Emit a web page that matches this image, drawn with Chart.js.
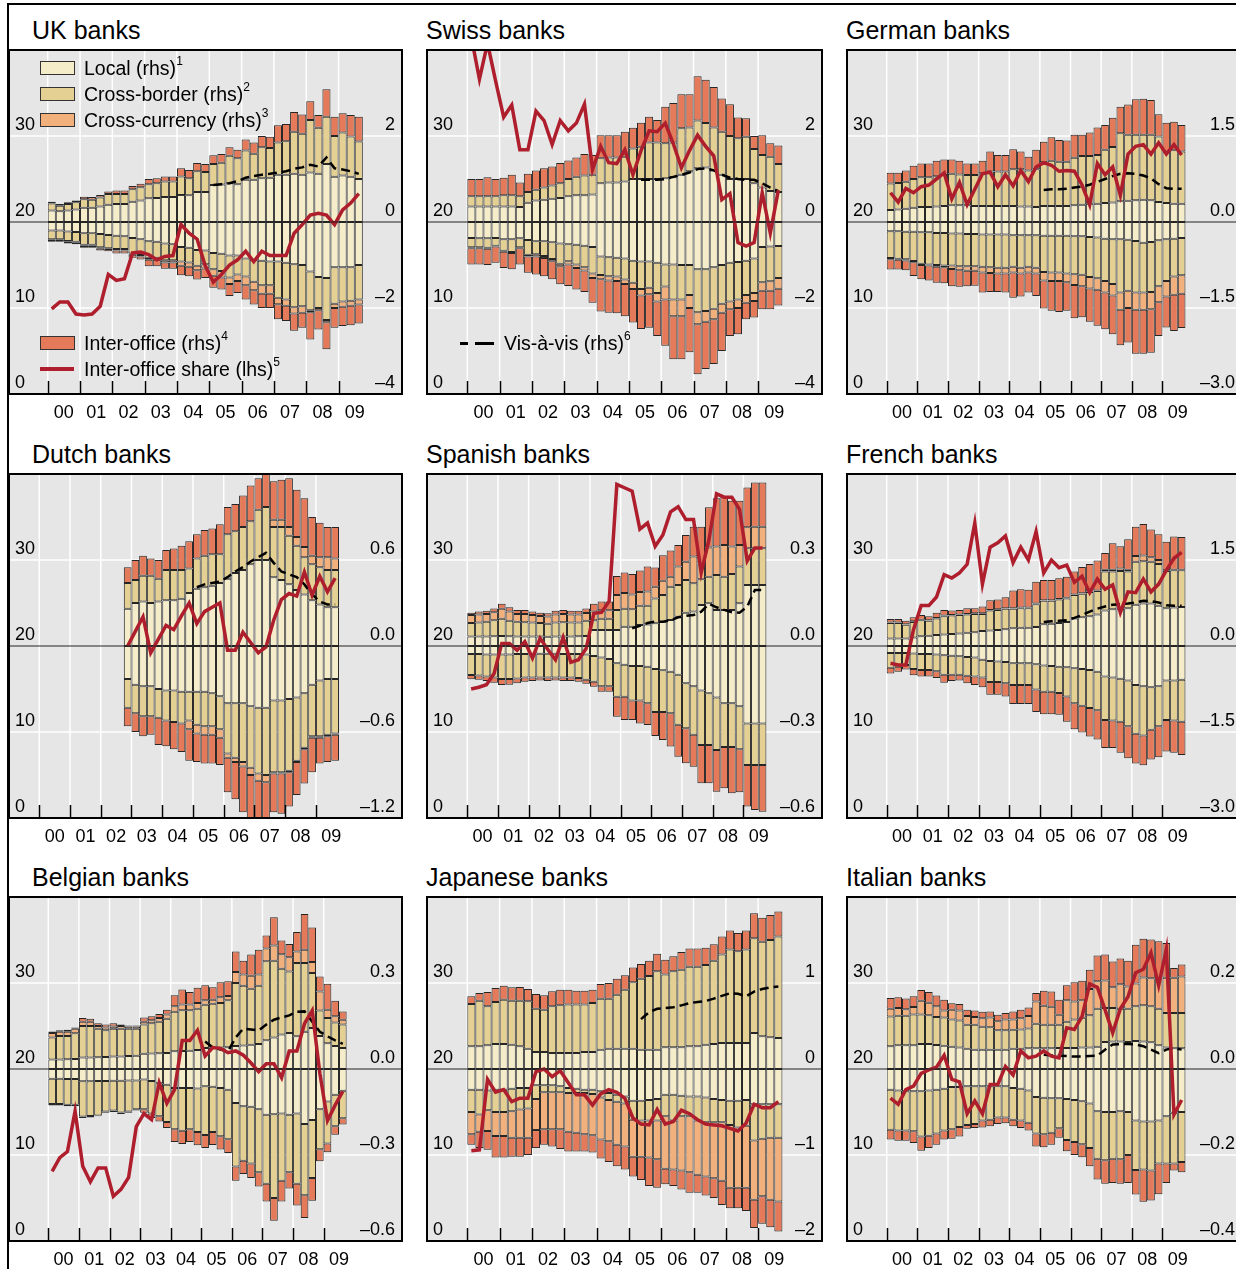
<!DOCTYPE html>
<html>
<head>
<meta charset="utf-8">
<title>Banks' funding positions</title>
<script src="https://cdn.jsdelivr.net/npm/chart.js@4.4.1/dist/chart.umd.min.js"></script>
<style>
    body { margin: 0; width: 1236px; height: 1269px; overflow: hidden; position: relative; background: #fff;
           font-family: "Liberation Sans", Arial, Helvetica, sans-serif; color: #000; }
    canvas { position: absolute; }
    .title { position: absolute; font-size: 25px; line-height: 25px; white-space: nowrap; }
    .lg { position: absolute; font-size: 19.5px; line-height: 19px; white-space: nowrap; }
    .lg sup { font-size: 12px; line-height: 0; vertical-align: 0; position: relative; top: -10px; }
    .sw { position: absolute; width: 35px; height: 14px; box-sizing: border-box; border: 1px solid #333; }
    .ln { position: absolute; }
    #frameTop { position: absolute; left: 7px; top: 3px; width: 1229px; height: 2px; background: #000; }
    #frameLeft { position: absolute; left: 7px; top: 3px; width: 2px; height: 1266px; background: #000; }
</style>
</head>
<body>
<div id="frameTop"></div>
<div id="frameLeft"></div>

<script>
// Quarter index: 0 = 2000 Q1. Bar values are the outer edge of each layer (rhs units),
// listed from the zero line outwards. Share is lhs (per cent).
const yearLabels = ['00', '01', '02', '03', '04', '05', '06', '07', '08', '09'];

// UK banks
const ukLocalUp = [0.27,0.25,0.27,0.29, 0.33,0.33,0.36,0.40, 0.42,0.42,0.47,0.50, 0.55,0.56,0.58,0.58, 0.63,0.62,0.70,0.70, 0.86,0.87,0.90,0.88, 0.98,0.98,1.02,1.03, 1.10,1.10,1.12,1.10, 1.15,1.12,1.35,1.05, 1.08,1.05,1.00];
const ukBorderUp = [0.43,0.38,0.42,0.46, 0.53,0.52,0.57,0.65, 0.65,0.65,0.76,0.81, 0.88,0.90,0.94,0.94, 1.06,1.02,1.18,1.16, 1.35,1.38,1.54,1.48, 1.66,1.59,1.74,1.72, 1.85,1.88,2.10,2.05, 2.37,2.19,2.45,2.00, 2.08,1.99,1.87];
const ukInterUp = [0.47,0.42,0.46,0.50, 0.59,0.58,0.63,0.71, 0.73,0.73,0.84,0.89, 1.00,1.02,1.06,1.06, 1.25,1.21,1.37,1.35, 1.55,1.58,1.74,1.68, 1.92,1.85,2.00,1.98, 2.25,2.28,2.56,2.50, 2.81,2.49,3.09,2.45, 2.53,2.49,2.45];
const ukLocalDown = [-0.2,-0.2,-0.22,-0.23, -0.26,-0.26,-0.28,-0.3, -0.32,-0.33,-0.37,-0.4, -0.45,-0.46,-0.5,-0.52, -0.58,-0.6,-0.65,-0.66, -0.72,-0.74,-0.78,-0.78, -0.85,-0.88,-0.9,-0.92, -0.92,-0.95,-0.98,-1.0, -1.15,-1.28,-1.3,-1.05, -1.05,-1.05,-1.0];
const ukBorderDown = [-0.4,-0.4,-0.44,-0.46, -0.53,-0.53,-0.59,-0.61, -0.63,-0.63,-0.73,-0.77, -0.83,-0.83,-0.89,-0.89, -0.92,-0.94,-1.02,-0.98, -1.1,-1.14,-1.29,-1.22, -1.27,-1.39,-1.47,-1.47, -1.76,-1.8,-1.98,-1.96, -2.05,-2.0,-2.28,-1.9, -1.85,-1.83,-1.8];
const ukCcyDown = [-0.42,-0.42,-0.46,-0.48, -0.55,-0.55,-0.61,-0.63, -0.66,-0.66,-0.76,-0.8, -0.88,-0.88,-0.94,-0.94, -1.02,-1.04,-1.12,-1.08, -1.25,-1.29,-1.44,-1.37, -1.47,-1.59,-1.67,-1.67, -1.91,-1.95,-2.13,-2.11, -2.1,-2.05,-2.33,-2.0, -1.97,-1.95,-1.92];
const ukInterDown = [-0.46,-0.46,-0.5,-0.52, -0.6,-0.6,-0.66,-0.68, -0.73,-0.73,-0.83,-0.87, -1.03,-1.03,-1.09,-1.09, -1.24,-1.26,-1.34,-1.3, -1.53,-1.57,-1.72,-1.65, -1.8,-1.92,-2.0,-2.0, -2.26,-2.3,-2.53,-2.46, -2.73,-2.5,-2.96,-2.46, -2.42,-2.4,-2.36];
const ukShare = [9.9,10.7,10.7,9.3, 9.2,9.3,10.2,13.9, 13.2,13.4,16.4,16.5, 16.2,15.6,16.0,16.1, 19.7,18.7,18.0,14.9, 13.0,13.9,15.0,15.6, 16.6,15.4,16.6,16.1, 16.1,16.1,18.7,19.7, 20.8,21.0,20.8,19.7, 21.4,22.2,23.3];
const ukVis = [0.86,0.88,0.90,0.95, 1.03,1.07,1.10,1.12, 1.15,1.18,1.24,1.27, 1.33,1.29,1.50,1.25, 1.22,1.18,1.12];

// Swiss banks
const chLocalUp = [0.36,0.36,0.36,0.36, 0.36,0.36,0.35,0.45, 0.5,0.52,0.54,0.56, 0.6,0.62,0.62,0.64, 0.9,0.92,0.92,0.94, 1.0,1.0,1.0,1.0, 1.02,1.04,1.1,1.18, 1.25,1.27,1.2,1.1, 1.0,1.0,1.0,0.9, 0.8,0.72,0.7];
const chBorderUp = [0.6,0.6,0.6,0.6, 0.62,0.62,0.6,0.7, 0.75,0.8,0.85,0.9, 1.0,1.05,1.08,1.1, 1.48,1.5,1.5,1.52, 1.71,1.75,1.85,1.85, 1.83,1.85,2.18,2.2, 2.36,2.3,2.2,2.1, 2.0,1.95,1.98,1.7, 1.56,1.52,1.35];
const chInterUp = [1.0,1.0,1.04,1.0, 1.03,1.1,0.92,1.12, 1.2,1.25,1.29,1.37, 1.43,1.5,1.58,1.56, 2.02,2.02,2.02,2.1, 2.19,2.31,2.45,2.37, 2.68,2.77,2.97,2.97, 3.39,3.31,3.14,2.87, 2.74,2.43,2.41,2.0, 2.02,1.83,1.78];
const chLocalDown = [-0.37,-0.38,-0.38,-0.37, -0.4,-0.4,-0.38,-0.42, -0.45,-0.45,-0.47,-0.5, -0.52,-0.53,-0.55,-0.58, -0.8,-0.82,-0.83,-0.85, -0.9,-0.92,-0.92,-0.95, -0.99,-0.99,-1.0,-1.0, -1.1,-1.1,-1.05,-1.0, -0.95,-0.93,-0.9,-0.85, -0.58,-0.57,-0.56];
const chBorderDown = [-0.59,-0.59,-0.6,-0.55, -0.67,-0.7,-0.59,-0.76, -0.75,-0.79,-0.86,-0.97, -0.91,-0.99,-1.05,-1.2, -1.23,-1.26,-1.27,-1.34, -1.41,-1.56,-1.53,-1.65, -1.5,-1.8,-1.8,-1.7, -2.1,-2.07,-2.02,-1.9, -1.85,-1.8,-1.7,-1.65, -1.4,-1.38,-1.3];
const chCcyDown = [-0.61,-0.61,-0.62,-0.57, -0.69,-0.72,-0.61,-0.8, -0.8,-0.84,-0.91,-1.03, -0.99,-1.07,-1.13,-1.3, -1.33,-1.36,-1.37,-1.44, -1.56,-1.71,-1.68,-1.85, -1.8,-2.19,-2.19,-2.0, -2.38,-2.32,-2.26,-2.11, -2.03,-2.0,-1.88,-1.84, -1.6,-1.6,-1.55];
const chInterDown = [-0.99,-0.99,-1.0,-0.95, -1.07,-1.1,-0.99,-1.18, -1.22,-1.26,-1.33,-1.45, -1.49,-1.57,-1.63,-1.88, -2.08,-2.11,-2.12,-2.19, -2.34,-2.49,-2.46,-2.65, -2.88,-3.19,-3.19,-3.03, -3.54,-3.42,-3.3,-3.0, -2.65,-2.61,-2.26,-2.22, -2.03,-2.03,-1.94];
const chShare = [41.5,36.6,40.8,36.4, 32.2,33.6,28.4,28.4, 32.9,31.8,29.0,31.8, 30.6,31.5,33.7,26.1, 28.8,26.9,26.8,28.4, 25.5,28.3,30.6,30.5, 31.5,29.1,26.3,28.3, 30.1,28.8,27.7,22.6, 23.3,17.6,17.2,17.6, 23.4,18.7,23.7];
const chVis = [0.98,0.98,0.98, 1.0,1.05,1.1,1.15, 1.23,1.25,1.2,1.1, 1.03,1.0,0.98,0.98, 0.9,0.8,0.72];

// German banks
const deLocalUp = [0.21,0.22,0.23,0.25, 0.26,0.26,0.27,0.28, 0.29,0.29,0.29,0.28, 0.28,0.28,0.28,0.28, 0.28,0.27,0.27,0.26, 0.28,0.28,0.28,0.28, 0.29,0.3,0.32,0.32, 0.33,0.34,0.36,0.37, 0.38,0.39,0.38,0.35, 0.33,0.32,0.32];
const deBorderUp = [0.67,0.68,0.7,0.75, 0.78,0.78,0.8,0.82, 0.84,0.83,0.82,0.82, 0.85,0.88,0.88,0.88, 0.92,0.92,0.9,0.92, 1.04,1.07,1.05,1.05, 1.12,1.15,1.15,1.17, 1.26,1.31,1.55,1.52, 1.52,1.52,1.52,1.49, 1.23,1.25,1.23];
const deInterUp = [0.86,0.86,0.9,0.98, 1.02,1.02,1.07,1.09, 1.09,1.07,1.02,1.02, 1.07,1.23,1.17,1.17, 1.27,1.23,1.14,1.26, 1.4,1.48,1.43,1.42, 1.52,1.52,1.56,1.65, 1.69,1.82,2.01,2.05, 2.14,2.15,2.13,1.88, 1.73,1.75,1.69];
const deLocalDown = [-0.16,-0.16,-0.17,-0.17, -0.18,-0.18,-0.19,-0.19, -0.2,-0.2,-0.21,-0.21, -0.22,-0.22,-0.22,-0.22, -0.23,-0.23,-0.23,-0.23, -0.24,-0.24,-0.24,-0.24, -0.25,-0.25,-0.26,-0.27, -0.29,-0.3,-0.3,-0.31, -0.33,-0.36,-0.35,-0.32, -0.3,-0.29,-0.28];
const deBorderDown = [-0.63,-0.64,-0.65,-0.68, -0.73,-0.74,-0.75,-0.76, -0.76,-0.77,-0.77,-0.77, -0.78,-0.79,-0.8,-0.8, -0.78,-0.8,-0.78,-0.8, -0.87,-0.88,-0.88,-0.9, -0.91,-0.92,-0.96,-0.98, -1.03,-1.08,-1.23,-1.2, -1.23,-1.23,-1.22,-1.12, -1.03,-0.95,-0.93];
const deCcyDown = [-0.65,-0.66,-0.67,-0.7, -0.75,-0.76,-0.78,-0.79, -0.82,-0.84,-0.85,-0.85, -0.88,-0.89,-0.9,-0.9, -0.88,-0.9,-0.88,-0.9, -1.02,-1.03,-1.03,-1.05, -1.1,-1.12,-1.16,-1.18, -1.23,-1.28,-1.53,-1.5, -1.53,-1.53,-1.52,-1.4, -1.3,-1.27,-1.25];
const deInterDown = [-0.83,-0.83,-0.84,-0.94, -1.0,-1.02,-1.06,-1.07, -1.12,-1.13,-1.12,-1.11, -1.23,-1.22,-1.22,-1.23, -1.32,-1.3,-1.23,-1.29, -1.51,-1.55,-1.57,-1.55, -1.68,-1.66,-1.74,-1.81, -1.87,-1.96,-2.15,-2.1, -2.3,-2.3,-2.28,-1.99, -1.84,-1.9,-1.85];
const deShare = [23.4,22.3,23.9,23.4, 24.1,24.3,25.0,25.7, 22.7,24.6,22.0,23.8, 25.6,25.8,24.1,25.5, 24.2,26.0,24.7,26.4, 26.9,26.6,25.9,26.0, 25.9,24.3,22.0,26.8, 25.5,26.4,23.1,27.9, 28.8,29.0,27.9,29.2, 27.9,29.0,27.8];
const deVis = [0.56,0.57,0.57,0.58, 0.6,0.62,0.65,0.7, 0.75,0.8,0.84,0.85, 0.84,0.81,0.76,0.66, 0.59,0.58,0.58];

// Dutch banks (from 2002 Q4)
const nlLocalUp = [0.26, 0.3,0.31,0.3,0.31, 0.32,0.32,0.33,0.37, 0.4,0.41,0.42,0.44, 0.47,0.51,0.53,0.57, 0.6,0.6,0.48,0.46, 0.43,0.39,0.36,0.32, 0.29,0.27,0.27];
const nlBorderUp = [0.44, 0.46,0.49,0.49,0.47, 0.53,0.53,0.53,0.54, 0.61,0.63,0.64,0.64, 0.78,0.8,0.83,0.87, 0.95,0.97,0.83,0.83, 0.77,0.7,0.62,0.57, 0.55,0.53,0.53];
const nlCcyUp = [0.44, 0.46,0.49,0.49,0.47, 0.53,0.53,0.53,0.54, 0.61,0.63,0.64,0.64, 0.78,0.8,0.83,0.87, 0.95,0.97,0.88,0.88, 0.83,0.76,0.69,0.63, 0.62,0.62,0.61];
const nlInterUp = [0.55, 0.6,0.63,0.61,0.6, 0.67,0.68,0.7,0.73, 0.78,0.81,0.82,0.85, 0.97,0.99,1.05,1.12, 1.17,1.22,1.15,1.16, 1.17,1.09,1.03,0.9, 0.86,0.83,0.83];
const nlLocalDown = [-0.23, -0.27,-0.28,-0.28,-0.3, -0.31,-0.31,-0.32,-0.32, -0.32,-0.32,-0.33,-0.35, -0.4,-0.4,-0.4,-0.42, -0.43,-0.43,-0.38,-0.38, -0.37,-0.36,-0.33,-0.27, -0.24,-0.23,-0.23];
const nlBorderDown = [-0.43, -0.47,-0.49,-0.49,-0.5, -0.52,-0.53,-0.54,-0.52, -0.55,-0.56,-0.56,-0.58, -0.75,-0.78,-0.81,-0.85, -0.89,-0.9,-0.88,-0.88, -0.87,-0.8,-0.71,-0.63, -0.63,-0.62,-0.61];
const nlCcyDown = [-0.43, -0.47,-0.49,-0.49,-0.5, -0.52,-0.53,-0.54,-0.58, -0.61,-0.62,-0.62,-0.64, -0.78,-0.81,-0.84,-0.9, -0.94,-0.95,-0.89,-0.89, -0.88,-0.81,-0.72,-0.64, -0.64,-0.63,-0.62];
const nlInterDown = [-0.56, -0.6,-0.63,-0.62,-0.69, -0.7,-0.72,-0.74,-0.8, -0.81,-0.82,-0.82,-0.83, -1.02,-1.07,-1.16,-1.22, -1.25,-1.22,-1.16,-1.17, -1.12,-1.04,-0.96,-0.88, -0.82,-0.81,-0.8];
const nlShare = [20.0, 21.7,23.4,19.2,20.8, 22.4,21.9,23.5,25.0, 22.6,24.0,24.5,25.0, 19.5,19.5,21.6,20.4, 19.2,19.9,23.0,25.4, 26.1,25.8,28.6,25.9, 28.1,26.3,27.9];
const nlVis = [0.41,0.43,0.44,0.45, 0.48,0.52,0.55,0.59, 0.62,0.65,0.58,0.52, 0.5,0.48,0.43,0.36, 0.31,0.29,0.29];

// Spanish banks
const esLocalUp = [0.033,0.033,0.033,0.034, 0.035,0.034,0.033,0.033, 0.033,0.033,0.032,0.033, 0.033,0.033,0.034,0.035, 0.056,0.056,0.056,0.056, 0.067,0.067,0.073,0.075, 0.079,0.085,0.091,0.102, 0.116,0.12,0.143,0.149, 0.126,0.126,0.126,0.149, 0.213,0.213,0.213];
const esBorderUp = [0.08,0.082,0.085,0.09, 0.095,0.088,0.085,0.083, 0.082,0.08,0.078,0.082, 0.083,0.082,0.082,0.088, 0.09,0.095,0.095,0.126, 0.13,0.128,0.14,0.14, 0.166,0.178,0.207,0.213, 0.23,0.219,0.233,0.242, 0.248,0.242,0.251,0.277, 0.341,0.341,0.341];
const esCcyUp = [0.108,0.11,0.112,0.118, 0.13,0.12,0.112,0.112, 0.108,0.105,0.103,0.11, 0.112,0.11,0.11,0.115, 0.12,0.125,0.125,0.178, 0.185,0.18,0.188,0.19, 0.207,0.228,0.242,0.277, 0.294,0.312,0.288,0.344, 0.347,0.352,0.347,0.352, 0.414,0.416,0.416];
const esInterUp = [0.116,0.12,0.123,0.131, 0.147,0.135,0.126,0.126, 0.12,0.116,0.114,0.123, 0.126,0.123,0.123,0.131, 0.147,0.155,0.155,0.244, 0.256,0.251,0.263,0.277, 0.274,0.317,0.333,0.352, 0.387,0.416,0.416,0.484, 0.515,0.521,0.507,0.507, 0.553,0.57,0.57];
const esLocalDown = [-0.028,-0.028,-0.03,-0.03, -0.03,-0.03,-0.028,-0.028, -0.027,-0.027,-0.027,-0.027, -0.028,-0.028,-0.028,-0.03, -0.035,-0.04,-0.045,-0.06, -0.065,-0.07,-0.07,-0.072, -0.08,-0.085,-0.09,-0.1, -0.13,-0.14,-0.155,-0.165, -0.18,-0.2,-0.2,-0.21, -0.27,-0.27,-0.27];
const esBorderDown = [-0.101,-0.103,-0.106,-0.11, -0.115,-0.115,-0.113,-0.11, -0.11,-0.11,-0.11,-0.11, -0.11,-0.11,-0.112,-0.118, -0.125,-0.14,-0.14,-0.177, -0.177,-0.19,-0.19,-0.2, -0.23,-0.23,-0.235,-0.275, -0.287,-0.31,-0.345,-0.345, -0.363,-0.352,-0.352,-0.36, -0.415,-0.415,-0.415];
const esInterDown = [-0.116,-0.118,-0.122,-0.128, -0.136,-0.135,-0.13,-0.125, -0.122,-0.12,-0.122,-0.12, -0.122,-0.122,-0.125,-0.132, -0.142,-0.16,-0.16,-0.247, -0.258,-0.258,-0.27,-0.276, -0.314,-0.328,-0.351,-0.386, -0.409,-0.421,-0.479,-0.479, -0.508,-0.496,-0.514,-0.51, -0.56,-0.572,-0.578];
const esShare = [15.0,15.2,15.5,16.8, 20.3,20.3,19.5,20.5, 18.6,20.9,19.6,18.4, 21.0,18.1,18.4,19.7, 23.8,23.9,25.2,38.8, 38.4,38.0,33.6,34.3, 31.6,32.9,35.6,36.2, 34.7,34.7,28.5,32.3, 37.7,37.3,37.3,35.9, 29.9,31.4,31.4];
const esVis = [0.062,0.07,0.08, 0.085,0.085,0.09,0.1, 0.105,0.108,0.12,0.147, 0.135,0.126,0.118,0.116, 0.137,0.195,0.195];

// French banks
const frLocalUp = [0.13,0.13,0.13,0.15, 0.17,0.18,0.19,0.2, 0.21,0.22,0.23,0.24, 0.26,0.27,0.28,0.29, 0.31,0.32,0.32,0.33, 0.38,0.39,0.4,0.42, 0.48,0.5,0.52,0.55, 0.62,0.64,0.65,0.66, 0.72,0.74,0.74,0.7, 0.66,0.67,0.68];
const frBorderUp = [0.4,0.4,0.37,0.42, 0.45,0.44,0.48,0.52, 0.53,0.54,0.55,0.56, 0.56,0.62,0.63,0.65, 0.65,0.66,0.66,0.73, 0.79,0.79,0.81,0.83, 0.89,0.91,0.94,0.96, 1.3,1.3,1.31,1.3, 1.47,1.48,1.47,1.43, 1.31,1.32,1.32];
const frCcyUp = [0.41,0.41,0.38,0.43, 0.46,0.45,0.49,0.53, 0.54,0.55,0.56,0.57, 0.57,0.63,0.64,0.66, 0.66,0.67,0.67,0.74, 0.8,0.8,0.82,0.84, 0.9,0.92,0.95,0.97, 1.33,1.33,1.35,1.33, 1.57,1.58,1.55,1.5, 1.32,1.33,1.33];
const frInterUp = [0.47,0.47,0.44,0.5, 0.54,0.52,0.58,0.63, 0.62,0.63,0.66,0.66, 0.69,0.8,0.81,0.85, 0.97,0.99,0.98,1.12, 1.15,1.15,1.18,1.21, 1.3,1.38,1.43,1.49, 1.62,1.79,1.74,1.86, 2.08,2.13,2.03,1.95, 1.82,1.91,1.9];
const frLocalDown = [-0.12,-0.12,-0.12,-0.13, -0.14,-0.14,-0.15,-0.16, -0.17,-0.18,-0.19,-0.2, -0.24,-0.26,-0.27,-0.28, -0.3,-0.3,-0.3,-0.32, -0.34,-0.35,-0.36,-0.37, -0.39,-0.4,-0.42,-0.45, -0.53,-0.55,-0.57,-0.6, -0.68,-0.7,-0.72,-0.7, -0.6,-0.6,-0.59];
const frBorderDown = [-0.38,-0.36,-0.33,-0.4, -0.42,-0.42,-0.44,-0.5, -0.5,-0.5,-0.52,-0.53, -0.55,-0.63,-0.63,-0.65, -0.68,-0.68,-0.68,-0.76, -0.8,-0.8,-0.82,-0.88, -1.0,-1.04,-1.08,-1.12, -1.29,-1.3,-1.32,-1.4, -1.53,-1.56,-1.46,-1.4, -1.29,-1.3,-1.32];
const frInterDown = [-0.48,-0.45,-0.41,-0.51, -0.53,-0.53,-0.56,-0.64, -0.61,-0.6,-0.65,-0.68, -0.72,-0.85,-0.85,-0.88, -1.01,-1.01,-1.01,-1.15, -1.19,-1.19,-1.2,-1.32, -1.45,-1.51,-1.58,-1.63, -1.78,-1.78,-1.86,-1.96, -2.05,-2.08,-1.98,-1.94, -1.84,-1.86,-1.9];
const frShare = [18.0,17.8,17.8,21.9, 24.7,24.7,25.7,28.3, 27.9,28.5,29.5,34.3, 27.2,31.5,32.0,32.8, 29.7,31.5,30.0,33.3, 28.5,30.0,29.1,29.4, 27.4,28.1,26.2,27.8, 26.6,27.1,23.9,26.3, 26.2,27.8,26.3,27.2, 28.8,30.2,30.9];
const frVis = [0.42,0.43,0.44,0.45, 0.49,0.54,0.6,0.65, 0.69,0.72,0.73,0.74, 0.76,0.79,0.78,0.76, 0.71,0.7,0.7];

// Belgian banks
const beLocalUp = [0.033,0.033,0.034,0.035, 0.04,0.04,0.041,0.042, 0.044,0.044,0.045,0.046, 0.053,0.054,0.055,0.056, 0.062,0.063,0.064,0.066, 0.073,0.074,0.075,0.076, 0.08,0.082,0.085,0.087, 0.1,0.11,0.12,0.126, 0.114,0.13,0.143,0.115, 0.09,0.08,0.073];
const beBorderUp = [0.11,0.115,0.115,0.125, 0.15,0.15,0.14,0.135, 0.14,0.14,0.14,0.14, 0.155,0.16,0.165,0.175, 0.2,0.205,0.205,0.21, 0.224,0.228,0.23,0.24, 0.3,0.29,0.28,0.29, 0.376,0.378,0.35,0.34, 0.37,0.37,0.335,0.204, 0.178,0.162,0.155];
const beCcyUp = [0.126,0.13,0.13,0.14, 0.165,0.165,0.15,0.145, 0.148,0.15,0.148,0.148, 0.165,0.17,0.178,0.19, 0.219,0.225,0.225,0.23, 0.24,0.242,0.25,0.255, 0.338,0.33,0.325,0.33, 0.42,0.431,0.4,0.39, 0.41,0.416,0.373,0.27, 0.207,0.184,0.172];
const beInterUp = [0.131,0.135,0.137,0.145, 0.178,0.175,0.16,0.155, 0.16,0.155,0.152,0.152, 0.18,0.184,0.192,0.207, 0.257,0.277,0.269,0.283, 0.292,0.285,0.303,0.306, 0.41,0.378,0.399,0.416, 0.466,0.529,0.448,0.436, 0.478,0.541,0.494,0.323, 0.297,0.238,0.201];
const beLocalDown = [-0.034,-0.034,-0.035,-0.035, -0.043,-0.043,-0.042,-0.042, -0.041,-0.041,-0.04,-0.04, -0.037,-0.042,-0.05,-0.055, -0.066,-0.066,-0.066,-0.068, -0.06,-0.062,-0.066,-0.072, -0.119,-0.13,-0.132,-0.14, -0.16,-0.158,-0.155,-0.16, -0.155,-0.192,-0.178,-0.14, -0.113,-0.09,-0.076];
const beBorderDown = [-0.122,-0.122,-0.125,-0.125, -0.166,-0.164,-0.162,-0.148, -0.145,-0.152,-0.148,-0.14, -0.14,-0.155,-0.165,-0.185, -0.21,-0.215,-0.21,-0.22, -0.23,-0.22,-0.235,-0.245, -0.34,-0.32,-0.33,-0.36, -0.4,-0.45,-0.39,-0.36, -0.4,-0.44,-0.38,-0.28, -0.26,-0.2,-0.172];
const beInterDown = [-0.127,-0.127,-0.13,-0.13, -0.171,-0.169,-0.165,-0.153, -0.15,-0.157,-0.153,-0.145, -0.153,-0.171,-0.183,-0.206, -0.255,-0.262,-0.255,-0.266, -0.276,-0.265,-0.281,-0.293, -0.39,-0.366,-0.38,-0.41, -0.462,-0.529,-0.462,-0.417, -0.476,-0.52,-0.46,-0.322, -0.29,-0.229,-0.194];
const beShare = [8.1,9.7,10.4,15.1, 8.7,6.9,8.5,8.5, 5.2,6.0,7.4,13.3, 14.8,14.1,18.4,16.0, 17.6,23.3,23.3,24.5, 21.5,22.5,22.4,21.9, 22.1,21.6,20.7,19.7, 20.6,20.6,19.0,22.1, 22.1,25.3,26.8,19.5, 14.0,15.8,17.4];
const beVis = [0.096,0.075,0.068,0.062, 0.11,0.141,0.138,0.134, 0.155,0.172,0.18,0.187, 0.2,0.201,0.165,0.13, 0.114,0.1,0.088];

// Japanese banks
const jpLocalUp = [0.264,0.264,0.275,0.29, 0.29,0.283,0.264,0.236, 0.198,0.198,0.186,0.186, 0.186,0.186,0.198,0.198, 0.225,0.236,0.236,0.236, 0.236,0.225,0.225,0.225, 0.252,0.252,0.252,0.264, 0.264,0.283,0.29,0.302, 0.302,0.302,0.302,0.419, 0.38,0.368,0.36];
const jpBorderUp = [0.756,0.795,0.73,0.78, 0.806,0.795,0.795,0.787, 0.7,0.69,0.73,0.74, 0.75,0.75,0.75,0.767, 0.818,0.818,0.864,0.922, 1.01,1.05,1.08,1.136, 1.1,1.136,1.155,1.19, 1.19,1.21,1.26,1.33, 1.39,1.37,1.39,1.52, 1.48,1.5,1.54];
const jpInterUp = [0.845,0.884,0.895,0.942, 0.969,0.95,0.953,0.93, 0.872,0.857,0.903,0.922, 0.922,0.911,0.911,0.922, 0.988,1.0,1.05,1.09, 1.18,1.22,1.26,1.34, 1.27,1.31,1.36,1.4, 1.4,1.41,1.45,1.54, 1.61,1.58,1.61,1.81, 1.76,1.79,1.83];
const jpLocalDown = [-0.24,-0.24,-0.25,-0.24, -0.24,-0.23,-0.22,-0.22, -0.19,-0.19,-0.19,-0.2, -0.22,-0.23,-0.24,-0.24, -0.26,-0.28,-0.3,-0.32, -0.37,-0.37,-0.36,-0.35, -0.3,-0.3,-0.31,-0.32, -0.32,-0.33,-0.35,-0.36, -0.37,-0.37,-0.36,-0.41, -0.41,-0.41,-0.41];
const jpBorderDown = [-0.5,-0.53,-0.48,-0.5, -0.5,-0.49,-0.47,-0.46, -0.35,-0.27,-0.27,-0.27, -0.28,-0.28,-0.28,-0.29, -0.33,-0.36,-0.38,-0.4, -0.59,-0.6,-0.6,-0.6, -0.55,-0.6,-0.55,-0.55, -0.6,-0.62,-0.62,-0.62, -0.65,-0.68,-0.66,-0.83, -0.81,-0.8,-0.8];
const jpCcyDown = [-0.76,-0.73,-0.72,-0.78, -0.78,-0.8,-0.8,-0.8, -0.71,-0.7,-0.7,-0.7, -0.73,-0.74,-0.76,-0.77, -0.82,-0.84,-0.88,-0.9, -1.02,-1.02,-1.03,-1.05, -1.16,-1.17,-1.18,-1.2, -1.23,-1.25,-1.27,-1.3, -1.38,-1.38,-1.38,-1.52, -1.48,-1.52,-1.54];
const jpInterDown = [-0.88,-0.92,-0.94,-1.03, -1.03,-1.02,-1.02,-1.0, -0.92,-0.88,-0.9,-0.93, -0.96,-0.96,-0.96,-0.97, -1.04,-1.08,-1.13,-1.17, -1.25,-1.29,-1.36,-1.38, -1.34,-1.36,-1.4,-1.44, -1.44,-1.47,-1.5,-1.58, -1.62,-1.62,-1.65,-1.85, -1.8,-1.84,-1.89];
const jpShare = [10.5,10.6,18.8,17.3, 17.6,16.2,16.6,16.6, 19.7,20.0,19.1,19.8, 18.4,17.0,17.0,15.8, 17.1,17.6,17.3,16.6, 14.3,13.6,13.5,15.3, 13.6,13.9,15.2,14.8, 14.1,13.6,13.5,13.4, 13.1,12.8,13.7,15.9, 15.5,15.5,16.2];
const jpVis = [0.58,0.66,0.7, 0.71,0.717,0.74,0.765, 0.78,0.79,0.818,0.85, 0.88,0.875,0.845,0.9, 0.93,0.95,0.96];

// Italian banks
const itLocalUp = [0.053,0.055,0.055,0.055, 0.058,0.058,0.056,0.054, 0.052,0.05,0.047,0.045, 0.045,0.045,0.045,0.045, 0.047,0.047,0.048,0.048, 0.048,0.048,0.049,0.049, 0.049,0.05,0.05,0.052, 0.063,0.064,0.064,0.063, 0.065,0.064,0.062,0.055, 0.05,0.048,0.048];
const itBorderUp = [0.122,0.124,0.124,0.127, 0.127,0.125,0.121,0.12, 0.115,0.113,0.103,0.103, 0.098,0.097,0.09,0.09, 0.091,0.092,0.094,0.105, 0.103,0.103,0.103,0.11, 0.115,0.119,0.125,0.14, 0.142,0.142,0.14,0.14, 0.146,0.148,0.146,0.14, 0.13,0.13,0.13];
const itCcyUp = [0.14,0.142,0.139,0.144, 0.159,0.154,0.146,0.136, 0.138,0.136,0.123,0.121, 0.118,0.12,0.111,0.115, 0.115,0.118,0.123,0.157, 0.147,0.145,0.126,0.16, 0.157,0.16,0.186,0.204, 0.206,0.19,0.197,0.192, 0.199,0.213,0.211,0.212, 0.212,0.212,0.215];
const itInterUp = [0.165,0.167,0.164,0.169, 0.184,0.179,0.171,0.161, 0.153,0.151,0.138,0.136, 0.133,0.134,0.126,0.13, 0.134,0.138,0.143,0.177, 0.182,0.18,0.161,0.195, 0.202,0.205,0.231,0.264, 0.266,0.25,0.257,0.252, 0.289,0.303,0.301,0.297, 0.293,0.235,0.243];
const itLocalDown = [-0.048,-0.05,-0.052,-0.052, -0.052,-0.05,-0.048,-0.046, -0.042,-0.042,-0.04,-0.04, -0.04,-0.04,-0.04,-0.04, -0.044,-0.046,-0.05,-0.065, -0.067,-0.068,-0.068,-0.07, -0.072,-0.075,-0.08,-0.098, -0.1,-0.1,-0.098,-0.1, -0.12,-0.122,-0.122,-0.12, -0.11,-0.102,-0.1];
const itBorderDown = [-0.141,-0.143,-0.143,-0.145, -0.157,-0.155,-0.15,-0.143, -0.14,-0.135,-0.13,-0.128, -0.12,-0.118,-0.113,-0.113, -0.118,-0.12,-0.125,-0.15, -0.152,-0.148,-0.138,-0.165, -0.17,-0.175,-0.184,-0.209, -0.212,-0.209,-0.21,-0.2, -0.235,-0.234,-0.236,-0.22, -0.22,-0.22,-0.216];
const itInterDown = [-0.164,-0.167,-0.167,-0.172, -0.19,-0.184,-0.176,-0.164, -0.162,-0.157,-0.139,-0.137, -0.136,-0.133,-0.128,-0.126, -0.133,-0.137,-0.143,-0.18, -0.182,-0.176,-0.16,-0.191, -0.2,-0.205,-0.226,-0.257, -0.267,-0.265,-0.267,-0.265, -0.292,-0.309,-0.306,-0.291, -0.265,-0.236,-0.24];
const itShare = [16.6,15.9,17.6,18.0, 19.5,19.9,20.2,21.6, 18.8,18.5,14.8,16.3, 14.8,18.2,18.2,20.3, 19.3,22.1,21.3,21.5, 22.1,21.5,21.3,24.8, 24.6,26.1,29.9,29.5, 26.9,24.2,27.0,28.4, 31.2,31.6,33.5,29.7, 33.9,14.7,16.4];
const itVis = [0.033,0.032,0.031,0.03, 0.029,0.029,0.03,0.031, 0.045,0.057,0.058,0.058, 0.057,0.053,0.045,0.037, 0.045,0.049,0.045];

// Colours
const C_LOCAL = '#f5ecca', C_BORDER = '#e3d092', C_CCY = '#f2b07c', C_INTER = '#e47a59';
const C_SHARE = '#ae1e2d';

// Plot boxes (inner area) per column / row
const colX = [[9, 402], [427, 822], [847, 1242]];
const rowY = [[50, 394], [474, 818], [897, 1241]];

// Panel setup: layers outwards from zero, first quarter index, where vis-a-vis starts
const panels = [
    { title: 'UK banks', col: 0, row: 0, xMin: -4.79, xMax: 43.85, r: 4, rl: ['2', '0', '\u20132', '\u20134'], start: 0,
      up: [[ukLocalUp, C_LOCAL], [ukBorderUp, C_BORDER], [ukInterUp, C_INTER]],
      down: [[ukLocalDown, C_LOCAL], [ukBorderDown, C_BORDER], [ukCcyDown, C_CCY], [ukInterDown, C_INTER]],
      share: ukShare, vis: ukVis, visStart: 20 },
    { title: 'Swiss banks', col: 1, row: 0, xMin: -4.99, xMax: 43.9, r: 4, rl: ['2', '0', '\u20132', '\u20134'], start: 0,
      up: [[chLocalUp, C_LOCAL], [chBorderUp, C_BORDER], [chInterUp, C_INTER]],
      down: [[chLocalDown, C_LOCAL], [chBorderDown, C_BORDER], [chCcyDown, C_CCY], [chInterDown, C_INTER]],
      share: chShare, vis: chVis, visStart: 21 },
    { title: 'German banks', col: 2, row: 0, xMin: -5.18, xMax: 46.38, r: 3, rl: ['1.5', '0.0', '\u20131.5', '\u20133.0'], start: 0,
      up: [[deLocalUp, C_LOCAL], [deBorderUp, C_BORDER], [deInterUp, C_INTER]],
      down: [[deLocalDown, C_LOCAL], [deBorderDown, C_BORDER], [deCcyDown, C_CCY], [deInterDown, C_INTER]],
      share: deShare, vis: deVis, visStart: 20 },
    { title: 'Dutch banks', col: 0, row: 1, xMin: -3.94, xMax: 47.2, r: 1.2, rl: ['0.6', '0.0', '\u20130.6', '\u20131.2'], start: 11,
      up: [[nlLocalUp, C_LOCAL], [nlBorderUp, C_BORDER], [nlCcyUp, C_CCY], [nlInterUp, C_INTER]],
      down: [[nlLocalDown, C_LOCAL], [nlBorderDown, C_BORDER], [nlCcyDown, C_CCY], [nlInterDown, C_INTER]],
      share: nlShare, vis: nlVis, visStart: 20 },
    { title: 'Spanish banks', col: 1, row: 1, xMin: -5.25, xMax: 46.25, r: 0.6, rl: ['0.3', '0.0', '\u20130.3', '\u20130.6'], start: 0,
      up: [[esLocalUp, C_LOCAL], [esBorderUp, C_BORDER], [esCcyUp, C_CCY], [esInterUp, C_INTER]],
      down: [[esLocalDown, C_LOCAL], [esBorderDown, C_BORDER], [esInterDown, C_INTER]],
      share: esShare, vis: esVis, visStart: 21 },
    { title: 'French banks', col: 2, row: 1, xMin: -5.18, xMax: 46.38, r: 3, rl: ['1.5', '0.0', '\u20131.5', '\u20133.0'], start: 0,
      up: [[frLocalUp, C_LOCAL], [frBorderUp, C_BORDER], [frCcyUp, C_CCY], [frInterUp, C_INTER]],
      down: [[frLocalDown, C_LOCAL], [frBorderDown, C_BORDER], [frInterDown, C_INTER]],
      share: frShare, vis: frVis, visStart: 20 },
    { title: 'Belgian banks', col: 0, row: 2, xMin: -5.14, xMax: 46.24, r: 0.6, rl: ['0.3', '0.0', '\u20130.3', '\u20130.6'], start: 0,
      up: [[beLocalUp, C_LOCAL], [beBorderUp, C_BORDER], [beCcyUp, C_CCY], [beInterUp, C_INTER]],
      down: [[beLocalDown, C_LOCAL], [beBorderDown, C_BORDER], [beInterDown, C_INTER]],
      share: beShare, vis: beVis, visStart: 20 },
    { title: 'Japanese banks', col: 1, row: 2, xMin: -4.99, xMax: 43.9, r: 2, rl: ['1', '0', '\u20131', '\u20132'], start: 0,
      up: [[jpLocalUp, C_LOCAL], [jpBorderUp, C_BORDER], [jpInterUp, C_INTER]],
      down: [[jpLocalDown, C_LOCAL], [jpBorderDown, C_BORDER], [jpCcyDown, C_CCY], [jpInterDown, C_INTER]],
      share: jpShare, vis: jpVis, visStart: 21 },
    { title: 'Italian banks', col: 2, row: 2, xMin: -5.18, xMax: 46.38, r: 0.4, rl: ['0.2', '0.0', '\u20130.2', '\u20130.4'], start: 0,
      up: [[itLocalUp, C_LOCAL], [itBorderUp, C_BORDER], [itCcyUp, C_CCY], [itInterUp, C_INTER]],
      down: [[itLocalDown, C_LOCAL], [itBorderDown, C_BORDER], [itInterDown, C_INTER]],
      share: itShare, vis: itVis, visStart: 20 }
];

const FONT = '"Liberation Sans", Arial, Helvetica, sans-serif';

// Background, grid, zero line, frame, ticks and labels of one panel
const panelDecor = {
    id: 'panelDecor',
    beforeDatasetsDraw(chart) {
        const { ctx, chartArea: a, scales } = chart;
        ctx.save();
        ctx.fillStyle = '#e6e6e6';
        ctx.fillRect(a.left, a.top, a.width, a.height);
        ctx.strokeStyle = '#ffffff';
        ctx.lineWidth = 1.5;
        ctx.beginPath();
        for (let i = 0; i < yearLabels.length; i++) {
            const x = scales.x.getPixelForValue(i * 4);
            ctx.moveTo(x, a.top);
            ctx.lineTo(x, a.bottom);
        }
        [10, 30].forEach(v => {
            const y = scales.yL.getPixelForValue(v);
            ctx.moveTo(a.left, y);
            ctx.lineTo(a.right, y);
        });
        ctx.stroke();
        ctx.restore();
    },
    afterDatasetsDraw(chart, args, opts) {
        const { ctx, chartArea: a, scales } = chart;
        ctx.save();
        // zero line
        const y0 = scales.yL.getPixelForValue(20);
        ctx.strokeStyle = '#222';
        ctx.lineWidth = 1.2;
        ctx.beginPath();
        ctx.moveTo(a.left, y0);
        ctx.lineTo(a.right, y0);
        ctx.stroke();
        // year ticks at the bottom
        ctx.strokeStyle = '#000';
        ctx.lineWidth = 1.5;
        ctx.beginPath();
        for (let i = 0; i < yearLabels.length; i++) {
            const x = Math.round(scales.x.getPixelForValue(i * 4)) + 0.5;
            ctx.moveTo(x, a.bottom);
            ctx.lineTo(x, a.bottom - 13);
        }
        ctx.stroke();
        // frame
        ctx.lineWidth = 2;
        ctx.strokeRect(a.left, a.top, a.width, a.height);
        // axis labels, drawn just above their level
        ctx.fillStyle = '#000';
        ctx.font = '18px ' + FONT;
        ctx.textBaseline = 'alphabetic';
        const lhs = ['30', '20', '10', '0'];
        const rv = [opts.r / 2, 0, -opts.r / 2, -opts.r];
        lhs.forEach((t, i) => {
            ctx.textAlign = 'left';
            ctx.fillText(t, a.left + 6, scales.yL.getPixelForValue(30 - i * 10) - 6.5);
            ctx.textAlign = 'right';
            ctx.fillText(opts.rl[i], a.right - 7, scales.y.getPixelForValue(rv[i]) - 6.5);
        });
        // year labels under the box
        ctx.textAlign = 'center';
        ctx.textBaseline = 'middle';
        yearLabels.forEach((t, i) => {
            ctx.fillText(t, scales.x.getPixelForValue(i * 4 + 2), a.bottom + 19);
        });
        ctx.restore();
    }
};

// Floating bars, one dataset per layer
function layerSets(layers, start) {
    return layers.map(([arr, color], li) => {
        const inner = li > 0 ? layers[li - 1][0] : null;
        return {
            type: 'bar',
            yAxisID: 'y',
            data: arr.map((v, i) => ({ x: start + i + 0.5, y: [inner ? inner[i] : 0, v] })),
            backgroundColor: color,
            borderColor: '#262626',
            borderWidth: 1,
            borderSkipped: false,
            inflateAmount: 0,
            grouped: false,
            barPercentage: 1,
            categoryPercentage: 1,
            clip: 0,
            order: 2
        };
    });
}

panels.forEach(p => {
    const [l, r] = colX[p.col];
    const [t, b] = rowY[p.row];

    // panel title
    const title = document.createElement('div');
    title.className = 'title';
    title.textContent = p.title;
    title.style.left = (p.col === 0 ? 32 : l - 1) + 'px';
    title.style.top = (t - 32) + 'px';
    document.body.appendChild(title);

    const canvas = document.createElement('canvas');
    const w = r - l + 4, h = b - t + 36;
    canvas.width = w;
    canvas.height = h;
    canvas.style.width = w + 'px';
    canvas.style.height = h + 'px';
    canvas.style.left = (l - 2) + 'px';
    canvas.style.top = (t - 2) + 'px';
    document.body.appendChild(canvas);

    const datasets = [
        ...layerSets(p.up, p.start),
        ...layerSets(p.down, p.start),
        {
            type: 'line', yAxisID: 'y',
            data: p.vis.map((v, i) => ({ x: p.visStart + i + 0.5, y: v })),
            borderColor: '#000', borderWidth: 2.5, borderDash: [9, 5],
            pointRadius: 0, tension: 0, fill: false, clip: 0, order: 1
        },
        {
            type: 'line', yAxisID: 'yL',
            data: p.share.map((v, i) => ({ x: p.start + i + 0.5, y: v })),
            borderColor: C_SHARE, borderWidth: 3.5,
            pointRadius: 0, tension: 0, fill: false, clip: 0, order: 0
        }
    ];

    new Chart(canvas.getContext('2d'), {
        type: 'bar',
        data: { datasets },
        options: {
            responsive: false,
            animation: false,
            events: [],
            layout: { padding: { left: 2, right: 2, top: 2, bottom: 34 } },
            scales: {
                x: { type: 'linear', display: false, min: p.xMin, max: p.xMax, offset: false, ticks: { stepSize: 1000 } },
                y: { display: false, min: -p.r, max: p.r },
                yL: { display: false, min: 0, max: 40, position: 'left' }
            },
            plugins: {
                legend: { display: false },
                tooltip: { enabled: false },
                panelDecor: { r: p.r, rl: p.rl }
            }
        },
        plugins: [panelDecor]
    });
});

// Legends drawn inside the UK and Swiss panels
function addSwatch(x, y, color) {
    const d = document.createElement('div');
    d.className = 'sw';
    d.style.left = x + 'px';
    d.style.top = y + 'px';
    d.style.background = color;
    document.body.appendChild(d);
}
function addLine(x, y, w, hgt, color) {
    const d = document.createElement('div');
    d.className = 'ln';
    Object.assign(d.style, { left: x + 'px', top: y + 'px', width: w + 'px', height: hgt + 'px', background: color });
    document.body.appendChild(d);
}
function addText(x, baseline, text, note) {
    const d = document.createElement('div');
    d.className = 'lg';
    d.style.left = x + 'px';
    d.style.top = (baseline - 16) + 'px';
    d.innerHTML = text + '<sup>' + note + '</sup>';
    document.body.appendChild(d);
}
addSwatch(40, 61, C_LOCAL);   addText(84, 75, 'Local (rhs)', '1');
addSwatch(40, 87, C_BORDER);  addText(84, 101, 'Cross-border (rhs)', '2');
addSwatch(40, 113, C_CCY);    addText(84, 127, 'Cross-currency (rhs)', '3');
addSwatch(40, 336, C_INTER);  addText(84, 350, 'Inter-office (rhs)', '4');
addLine(40, 367, 34, 4, C_SHARE); addText(84, 376, 'Inter-office share (lhs)', '5');
addLine(460, 342, 8, 3, '#000'); addLine(475, 342, 19, 3, '#000');
addText(504, 350, 'Vis-\u00e0-vis (rhs)', '6');
</script>
</body>
</html>
